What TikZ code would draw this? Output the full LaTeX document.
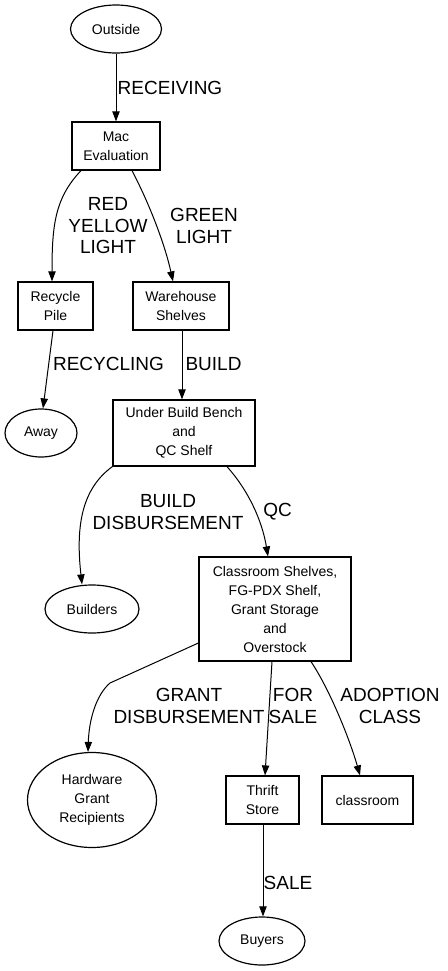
\documentclass[tikz,border=0pt]{standalone}
\usepackage{fontspec}
\setmainfont{Liberation Sans}
\usetikzlibrary{arrows.meta,calc,shapes.geometric}
\begin{document}
\begin{tikzpicture}[x=0.75pt,y=-0.75pt,
 nf/.style={font=\fontsize{10.5}{14.25}\selectfont, align=center, inner sep=0pt, draw, line width=0.9pt},
 boxn/.style 2 args={nf, rectangle, minimum width=#1*0.75pt, minimum height=#2*0.75pt},
 elln/.style 2 args={nf, ellipse, minimum width=#1*0.75pt, minimum height=#2*0.75pt},
 lab/.style={font=\fontsize{14.25}{16.1}\selectfont, align=center, inner sep=0pt},
 edge/.style={line width=0.75pt, -{Triangle[length=7.5pt,width=5.5pt]}}]
\useasboundingbox (0,0) rectangle (447,971);
\fill[white] (0,0) rectangle (447,971);
% nodes
\node[elln={91}{48}] (outside) at (116,29) {Outside};
\node[boxn={88}{48}] (mac) at (116,146) {Mac\\Evaluation};
\node[boxn={75}{48}] (recycle) at (55.5,306) {Recycle\\Pile};
\node[boxn={96}{48}] (warehouse) at (181,306) {Warehouse\\Shelves};
\node[elln={72}{48}] (away) at (41,433) {Away};
\node[boxn={142}{66}] (under) at (184,433) {Under Build Bench\\and\\QC Shelf};
\node[elln={94}{48}] (builders) at (92,609) {Builders};
\node[boxn={152}{104}] (class) at (275,609) {Classroom Shelves,\\FG-PDX Shelf,\\Grant Storage\\and\\Overstock};
\node[elln={129}{95}] (hardware) at (92,800) {Hardware\\Grant\\Recipients};
\node[boxn={73}{48}] (thrift) at (262.5,800) {Thrift\\Store};
\node[boxn={91}{48}] (classroom) at (367.5,800) {classroom};
\node[elln={86}{48}] (buyers) at (262,941) {Buyers};
% edges
\draw[edge] (outside.south) -- (mac.north);
\draw[edge] ($(mac.south)+(-35,0)$) .. controls (55,198) and (52,225) .. ($(recycle.north)+(-3.5,0)$);
\draw[edge] ($(mac.south)+(16,0)$) .. controls (150,205) and (165,245) .. ($(warehouse.north)+(-8,0)$);
\draw[edge] ($(recycle.south)+(-2.5,0)$) -- ($(away.north)+(2,0)$);
\draw[edge] ($(warehouse.south)+(1,0)$) -- ($(under.north)+(-2,0)$);
\draw[edge] (under.south west) .. controls (80,490) and (76,530) .. ($(builders.north)+(-10,0)$);
\draw[edge] ($(under.south)+(43,0)$) .. controls (248,490) and (262,520) .. ($(class.north)+(-7,0)$);
\coordinate (bend) at (110,683);
\draw[edge] ($(class.west)+(0,34)$) -- (bend) .. controls (96,695) and (89,720) .. ($(hardware.north)+(-4,0)$);
\draw[edge] ($(class.south)+(-3,0)$) -- ($(thrift.north)+(2.5,0)$);
\draw[edge] ($(class.south)+(36,0)$) .. controls (330,690) and (350,740) .. ($(classroom.north)+(-7.5,0)$);
\draw[edge] ($(thrift.south)+(0.5,0)$) -- ($(buyers.north)+(1,0)$);
% labels
\node[lab] (l1) at (170,88) {RECEIVING};
\node[lab] (l2) at (108,226) {RED\\YELLOW\\LIGHT};
\node[lab] (l3) at (204,226) {GREEN\\LIGHT};
\node[lab] (l4) at (108.5,364) {RECYCLING};
\node[lab] (l5) at (213.5,364) {BUILD};
\node[lab] (l6) at (168,512) {BUILD\\DISBURSEMENT};
\node[lab] (l7) at (277.5,512) {QC};
\node[lab] (l8) at (189,706) {GRANT\\DISBURSEMENT};
\node[lab] (l9) at (293,706) {FOR\\SALE};
\node[lab] (l10) at (390,706) {ADOPTION\\CLASS};
\node[lab] (l11) at (288,883) {SALE};
\end{tikzpicture}
\end{document}
